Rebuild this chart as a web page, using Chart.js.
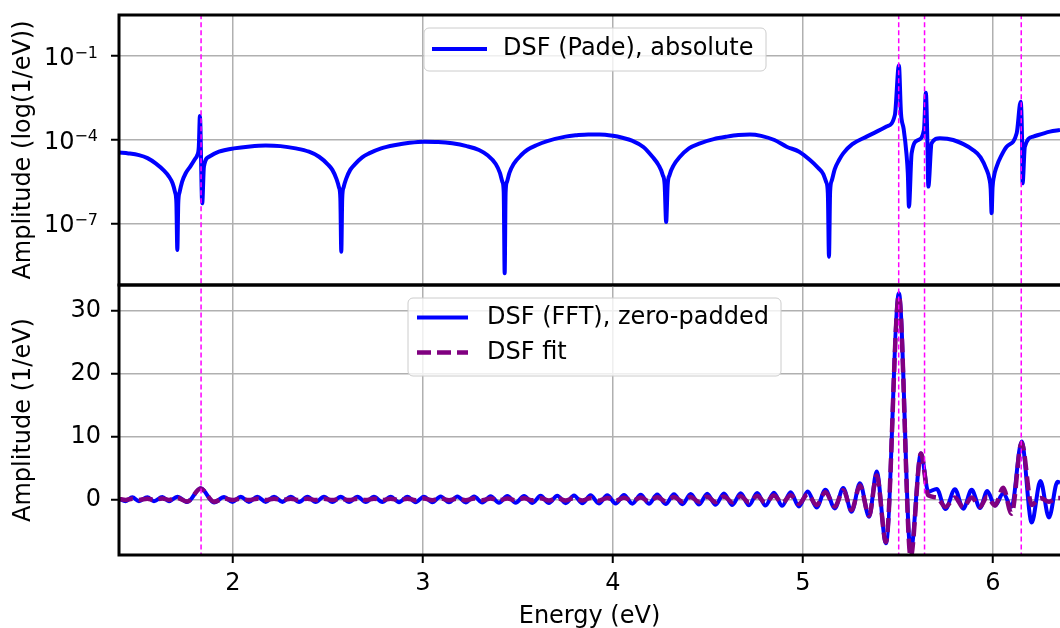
<!DOCTYPE html>
<html>
<head>
<meta charset="utf-8">
<script src="https://cdn.jsdelivr.net/npm/chart.js@4.4.1/dist/chart.umd.min.js"></script>
<style>
  body { margin: 0; background: #fff; }
  #wrap { position: relative; width: 1060px; height: 628px; overflow: hidden; }
  canvas { position: absolute; left: 0; }
  #pade { top: 0; }
  #fft { top: 280px; }
</style>
</head>
<body>
<div id="wrap">
  <canvas id="pade" width="1060" height="290"></canvas>
  <canvas id="fft" width="1060" height="348"></canvas>
</div>
<script>
// piek-energieen (stippellijnen)
const peakEnergies = [1.832, 5.504, 5.640, 6.149];
const energyTicks = [2, 3, 4, 5, 6];
const padeTicks = [1e-7, 1e-4, 1e-1];
const fftTicks = [0, 10, 20, 30];

// bovenste paneel: DSF (Pade), absolute
const padeEnergy = [
  1.400, 1.450, 1.505, 1.550, 1.593, 1.637, 1.663, 1.682, 1.695, 1.702, 1.707, 1.712, 1.719, 1.732, 1.751,
  1.775, 1.800, 1.812, 1.820, 1.826, 1.838, 1.847, 1.874, 1.926,
  2.005, 2.090, 2.172, 2.250, 2.330, 2.400, 2.453, 2.500, 2.523, 2.545, 2.558, 2.565, 2.570, 2.575, 2.582,
  2.595, 2.617, 2.640, 2.680, 2.716, 2.780, 2.856, 2.930,
  3.005, 3.080, 3.154, 3.230, 3.295, 3.340, 3.383, 3.405, 3.418, 3.425, 3.430, 3.435, 3.442, 3.455, 3.477,
  3.520, 3.550, 3.600, 3.650, 3.750, 3.810, 3.870, 3.930,
  4.000, 4.050, 4.100, 4.160, 4.210, 4.240, 4.262, 4.272, 4.280, 4.288, 4.298, 4.320, 4.350, 4.400, 4.458,
  4.530, 4.600, 4.660, 4.721, 4.780, 4.850, 4.914, 4.980,
  5.037, 5.080, 5.107, 5.122, 5.131, 5.137, 5.143, 5.152, 5.167, 5.190, 5.212, 5.260, 5.335, 5.440, 5.484,
  5.505, 5.516, 5.530, 5.545, 5.552, 5.558, 5.572, 5.607, 5.637, 5.647, 5.654, 5.660, 5.677, 5.721, 5.791,
  5.896, 5.935, 5.967, 5.981, 5.988, 5.993, 5.998,
  6.005, 6.019, 6.045, 6.072, 6.125, 6.146, 6.153, 6.156, 6.168, 6.212, 6.300, 6.353
];
const padeAmp = [
  3.55e-5, 3.31e-5, 2.88e-5, 2.24e-5, 1.45e-5, 7.94e-6, 4.90e-6, 2.82e-6, 1.35e-6, 5.62e-7, 1.15e-8, 5.62e-7, 1.35e-6, 3.16e-6, 6.46e-6,
  1.12e-5, 2.09e-5, 2.88e-5, 5.62e-5, 7.24e-4, 5.37e-7, 1.10e-5, 2.51e-5, 3.80e-5,
  5.01e-5, 5.89e-5, 6.31e-5, 6.03e-5, 5.01e-5, 3.80e-5, 2.51e-5, 1.32e-5, 8.51e-6, 3.98e-6, 2.00e-6, 8.32e-7, 1.0e-8, 8.32e-7, 2.00e-6,
  3.98e-6, 8.51e-6, 1.32e-5, 2.40e-5, 3.31e-5, 5.01e-5, 6.61e-5, 7.94e-5,
  8.71e-5, 8.51e-5, 7.59e-5, 6.03e-5, 4.37e-5, 2.82e-5, 1.38e-5, 6.61e-6, 3.16e-6, 1.32e-6, 1.70e-9, 1.32e-6, 3.16e-6, 6.61e-6, 1.38e-5,
  3.02e-5, 4.47e-5, 6.61e-5, 8.91e-5, 1.32e-4, 1.48e-4, 1.58e-4, 1.58e-4,
  1.41e-4, 1.20e-4, 9.55e-5, 5.62e-5, 2.40e-5, 1.26e-5, 5.62e-6, 2.51e-6, 1.15e-7, 2.51e-6, 5.62e-6, 1.26e-5, 2.40e-5, 5.01e-5, 7.59e-5,
  1.07e-4, 1.32e-4, 1.51e-4, 1.58e-4, 1.41e-4, 1.0e-4, 5.75e-5, 3.80e-5,
  1.91e-5, 1.0e-5, 6.03e-6, 3.16e-6, 1.26e-6, 6.61e-9, 1.41e-6, 3.55e-6, 8.91e-6, 1.91e-5, 3.31e-5, 7.08e-5, 1.32e-4, 3.02e-4, 7.94e-4,
  4.68e-2, 9.1e-4, 2.5e-4, 3.16e-5, 6.3e-6, 4.07e-7, 3.31e-5, 1.0e-4, 2.29e-4, 4.90e-3, 1.78e-4, 2.14e-6, 7.59e-5, 1.15e-4, 1.0e-4,
  4.37e-5, 2.40e-5, 8.51e-6, 4.17e-6, 1.78e-6, 2.40e-7, 2.0e-6,
  4.79e-6, 1.10e-5, 2.82e-5, 5.75e-5, 1.74e-4, 2.34e-3, 1.26e-4, 2.82e-6, 5.75e-5, 1.32e-4, 2.0e-4, 2.29e-4
];

// onderste paneel: DSF (FFT), zero-padded en DSF fit
const fftEnergy = [
  1.400, 1.435, 1.470, 1.505, 1.549, 1.584, 1.628, 1.663, 1.707, 1.759, 1.830, 1.900, 1.953,
  1.997, 2.041, 2.084, 2.128, 2.172, 2.216, 2.260, 2.304, 2.348, 2.392, 2.435, 2.479,
  2.523, 2.567, 2.611, 2.655, 2.699, 2.742, 2.786, 2.830, 2.874, 2.918, 2.961, 3.005,
  3.049, 3.093, 3.137, 3.181, 3.225, 3.269, 3.312, 3.356, 3.400, 3.444, 3.488, 3.532,
  3.576, 3.619, 3.663, 3.707, 3.751, 3.795, 3.839, 3.882, 3.926, 3.970, 4.014, 4.058,
  4.102, 4.146, 4.189, 4.233, 4.277, 4.321, 4.365, 4.409, 4.453, 4.496, 4.540, 4.584,
  4.628, 4.672, 4.716, 4.759, 4.803, 4.847, 4.891, 4.935, 4.979,
  5.025, 5.072, 5.118, 5.168, 5.212, 5.256, 5.300, 5.348, 5.388, 5.437, 5.505, 5.567, 5.621,
  5.660, 5.704, 5.750, 5.800, 5.844, 5.888, 5.932, 5.970, 6.011, 6.054, 6.098, 6.151, 6.204, 6.250, 6.295, 6.340, 6.353
];
const fftAmp = [
  0.10, -0.30, 0.32, -0.30, 0.32, -0.30, 0.35, -0.32, 0.40, -0.45, 1.75, -0.50, 0.38,
  -0.42, 0.40, -0.42, 0.40, -0.42, 0.40, -0.42, 0.40, -0.44, 0.40, -0.44, 0.40,
  -0.44, 0.40, -0.45, 0.40, -0.45, 0.42, -0.45, 0.42, -0.46, 0.42, -0.46, 0.42,
  -0.48, 0.44, -0.48, 0.44, -0.50, 0.46, -0.52, 0.48, -0.54, 0.50, -0.56, 0.52,
  -0.58, 0.55, -0.60, 0.57, -0.62, 0.60, -0.64, 0.62, -0.66, 0.64, -0.68, 0.66,
  -0.70, 0.70, -0.72, 0.74, -0.76, 0.78, -0.80, 0.84, -0.84, 0.88, -0.88, 0.90,
  -0.92, 0.94, -0.96, 0.98, -1.00, 1.02, -1.05, 1.10, -1.15,
  1.22, -1.30, 1.50, -1.45, 1.80, -2.00, 2.55, -2.80, 4.40, -7.00, 32.8, -8.30, 7.30,
  1.20, 1.65, -1.55, 1.60, -1.50, 1.50, -1.40, 1.30, -1.00, 0.90, -1.20, 9.20, -3.70, 2.90, -2.90, 2.80, 2.60
];
const fitAmp = [
  0.05, -0.10, 0.10, -0.10, 0.10, -0.10, 0.12, -0.10, 0.22, -0.35, 1.70, -0.40, 0.12,
  -0.12, 0.10, -0.12, 0.10, -0.12, 0.10, -0.12, 0.10, -0.12, 0.10, -0.12, 0.10,
  -0.12, 0.10, -0.12, 0.10, -0.12, 0.10, -0.12, 0.10, -0.12, 0.10, -0.14, 0.12,
  -0.14, 0.12, -0.14, 0.12, -0.14, 0.12, -0.15, 0.14, -0.15, 0.14, -0.16, 0.15,
  -0.16, 0.16, -0.18, 0.17, -0.18, 0.18, -0.20, 0.20, -0.22, 0.22, -0.24, 0.25,
  -0.27, 0.28, -0.30, 0.32, -0.33, 0.35, -0.36, 0.38, -0.40, 0.42, -0.44, 0.45,
  -0.46, 0.48, -0.50, 0.52, -0.55, 0.58, -0.60, 0.65, -0.70,
  0.80, -0.90, 1.10, -1.15, 1.45, -1.70, 2.20, -2.60, 3.80, -6.80, 32.4, -9.20, 7.30,
  0.60, 0.30, -1.20, 0.30, -1.30, 0.30, -1.20, 0.40, -1.00, 1.85, -2.30, 9.00, -0.90, 0.20, -0.40, 0.20, 0.20
];

Chart.defaults.font.family = "'DejaVu Sans', sans-serif";
Chart.defaults.font.size = 24;
Chart.defaults.color = '#000';

const FONT = "24px 'DejaVu Sans', sans-serif";
const GRID = '#b0b0b0';

// zwarte assenlijnen (boven, links, onder)
const framePlugin = {
  id: 'frame',
  afterDraw(chart) {
    const { ctx, chartArea: a } = chart;
    ctx.save();
    ctx.strokeStyle = '#000';
    ctx.lineWidth = 3;
    ctx.lineJoin = 'miter';
    ctx.beginPath();
    ctx.moveTo(a.right + 3, a.top);
    ctx.lineTo(a.left, a.top);
    ctx.lineTo(a.left, a.bottom);
    ctx.lineTo(a.right + 3, a.bottom);
    ctx.stroke();
    ctx.restore();
  }
};

// legenda in een afgerond kader, zoals matplotlib
const boxLegendPlugin = {
  id: 'boxLegend',
  afterDraw(chart, args, opts) {
    const { ctx } = chart;
    const [x, y, w, h] = opts.box;
    const r = 5;
    ctx.save();
    ctx.beginPath();
    ctx.moveTo(x + r, y);
    ctx.arcTo(x + w, y, x + w, y + h, r);
    ctx.arcTo(x + w, y + h, x, y + h, r);
    ctx.arcTo(x, y + h, x, y, r);
    ctx.arcTo(x, y, x + w, y, r);
    ctx.closePath();
    ctx.fillStyle = 'rgba(255,255,255,0.8)';
    ctx.fill();
    ctx.strokeStyle = '#cccccc';
    ctx.lineWidth = 1;
    ctx.stroke();
    opts.items.forEach(item => {
      ctx.beginPath();
      ctx.strokeStyle = item.color;
      ctx.lineWidth = item.width;
      ctx.setLineDash(item.dash || []);
      ctx.moveTo(opts.lineX[0], item.y);
      ctx.lineTo(opts.lineX[1], item.y);
      ctx.stroke();
      ctx.setLineDash([]);
      ctx.fillStyle = '#000';
      ctx.font = FONT;
      ctx.textBaseline = 'middle';
      ctx.textAlign = 'left';
      ctx.fillText(item.text, opts.textX, item.y);
    });
    ctx.restore();
  }
};

// 10^n labels voor de log-as
const powerTickPlugin = {
  id: 'powerTicks',
  afterDraw(chart) {
    const { ctx } = chart;
    const scale = chart.scales.y;
    ctx.save();
    ctx.fillStyle = '#000';
    ctx.textBaseline = 'alphabetic';
    ctx.textAlign = 'left';
    padeTicks.forEach(v => {
      const py = scale.getPixelForValue(v);
      const exp = '\u2212' + Math.abs(Math.round(Math.log10(v)));
      ctx.font = "16px 'DejaVu Sans', sans-serif";
      const ew = ctx.measureText(exp).width;
      ctx.font = FONT;
      const bw = ctx.measureText('10').width;
      const right = 98;
      ctx.fillText('10', right - ew - bw, py + 8.7);
      ctx.font = "16px 'DejaVu Sans', sans-serif";
      ctx.fillText(exp, right - ew, py + 1.5);
    });
    ctx.restore();
  }
};

function peakLineSets(lo, hi) {
  return peakEnergies.map(e => ({
    data: [{ x: e, y: lo }, { x: e, y: hi }],
    borderColor: '#ff00ff',
    borderWidth: 1.5,
    borderDash: [5, 3],
    pointRadius: 0,
    tension: 0,
    clip: 0,
    order: 0
  }));
}

const xAxis = (showLabels) => ({
  type: 'linear',
  min: 1.4,
  max: 6.353,
  afterBuildTicks: s => { s.ticks = energyTicks.map(v => ({ value: v })); },
  afterFit: s => { s.height = showLabels ? 73 : 5; s.paddingLeft = 0; s.paddingRight = 0; },
  ticks: { display: showLabels, padding: 6, maxRotation: 0, font: { size: 24 } },
  grid: { color: GRID, lineWidth: 1.5, drawTicks: showLabels, tickLength: 8, tickColor: '#000', tickWidth: 2 },
  border: { display: false },
  title: {
    display: showLabels,
    text: 'Energy (eV)',
    font: { size: 24, lineHeight: 1 },
    padding: { top: 0, bottom: -1 }
  }
});

const yFit = s => { s.width = 119; s.paddingTop = 0; s.paddingBottom = 0; };

new Chart(document.getElementById('pade'), {
  type: 'line',
  data: {
    datasets: [
      ...peakLineSets(1e-12, 1e3),
      {
        label: 'DSF (Pade), absolute',
        data: padeEnergy.map((e, i) => ({ x: e, y: padeAmp[i] })),
        borderColor: '#0000ff',
        borderWidth: 4,
        pointRadius: 0,
        cubicInterpolationMode: 'monotone',
        clip: 0,
        order: 2
      }
    ]
  },
  options: {
    responsive: false,
    animation: false,
    events: [],
    layout: { padding: { top: 15, left: 0, right: 0, bottom: 0 } },
    plugins: {
      legend: { display: false },
      tooltip: { enabled: false },
      boxLegend: {
        box: [424, 28, 342, 43],
        lineX: [432, 487],
        textX: 503,
        items: [{ text: 'DSF (Pade), absolute', color: '#0000ff', width: 4, y: 49 }]
      }
    },
    scales: {
      x: xAxis(false),
      y: {
        type: 'logarithmic',
        min: 6.4e-10,
        max: 3.0,
        afterBuildTicks: s => { s.ticks = padeTicks.map(v => ({ value: v })); },
        afterFit: yFit,
        ticks: { display: false },
        grid: { color: GRID, lineWidth: 1.5, tickLength: 8, tickColor: '#000', tickWidth: 2 },
        border: { display: false },
        title: {
          display: true,
          text: 'Amplitude (log(1/eV))',
          font: { size: 24, lineHeight: 1 },
          padding: { top: 12, bottom: 0 }
        }
      }
    }
  },
  plugins: [framePlugin, boxLegendPlugin, powerTickPlugin]
});

new Chart(document.getElementById('fft'), {
  type: 'line',
  data: {
    datasets: [
      ...peakLineSets(-50, 50),
      {
        label: 'DSF fit',
        data: fftEnergy.map((e, i) => ({ x: e, y: fitAmp[i] })),
        borderColor: '#800080',
        borderWidth: 4.5,
        borderDash: [14, 6],
        pointRadius: 0,
        cubicInterpolationMode: 'monotone',
        clip: 0,
        order: 1
      },
      {
        label: 'DSF (FFT), zero-padded',
        data: fftEnergy.map((e, i) => ({ x: e, y: fftAmp[i] })),
        borderColor: '#0000ff',
        borderWidth: 4,
        pointRadius: 0,
        cubicInterpolationMode: 'monotone',
        clip: 0,
        order: 2
      }
    ]
  },
  options: {
    responsive: false,
    animation: false,
    events: [],
    layout: { padding: { top: 5, left: 0, right: 0, bottom: 0 } },
    plugins: {
      legend: { display: false },
      tooltip: { enabled: false },
      boxLegend: {
        box: [408, 18, 373, 78],
        lineX: [417, 468],
        textX: 487,
        items: [
          { text: 'DSF (FFT), zero-padded', color: '#0000ff', width: 4, y: 37.5 },
          { text: 'DSF fit', color: '#800080', width: 4.5, dash: [14, 6], y: 72.5 }
        ]
      }
    },
    scales: {
      x: xAxis(true),
      y: {
        type: 'linear',
        min: -8.87,
        max: 34.1,
        afterBuildTicks: s => { s.ticks = fftTicks.map(v => ({ value: v })); },
        afterFit: yFit,
        ticks: { padding: 10, font: { size: 24 } },
        grid: { color: GRID, lineWidth: 1.5, tickLength: 8, tickColor: '#000', tickWidth: 2 },
        border: { display: false },
        title: {
          display: true,
          text: 'Amplitude (1/eV)',
          font: { size: 24, lineHeight: 1 },
          padding: { top: 12, bottom: 0 }
        }
      }
    }
  },
  plugins: [framePlugin, boxLegendPlugin]
});
</script>
</body>
</html>
